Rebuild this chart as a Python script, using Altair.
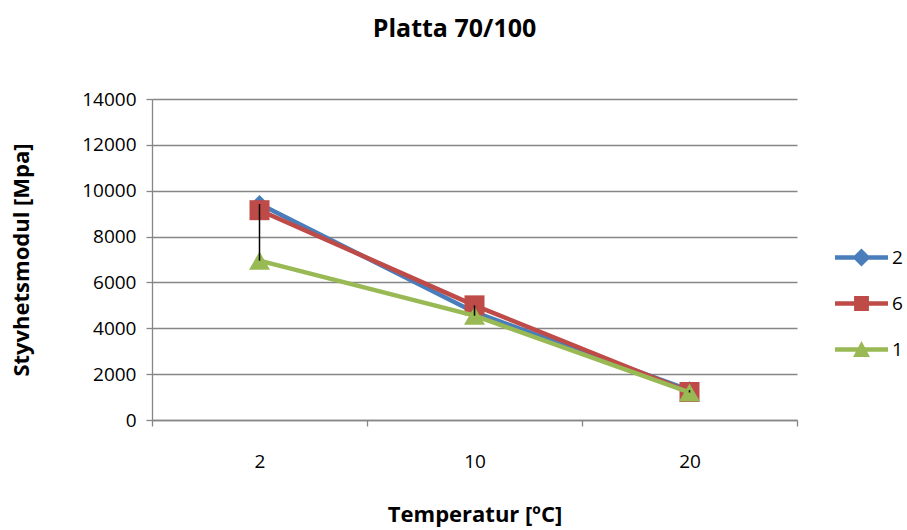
import altair as alt
import pandas as pd

# Stiffness modulus per temperature for three test series
temperatures = ["2", "10", "20"]
series_names = ["2", "6", "1"]
modulus_2 = [9420, 4700, 1300]
modulus_6 = [9150, 5000, 1220]
modulus_1 = [6950, 4550, 1200]

series_colors = ["#4A7EBB", "#BE4B48", "#98B954"]
series_shapes = ["diamond", "square", "triangle-up"]
marker_sizes = [320, 400, 440]

# Legend symbols: a short line with the series marker on it
legend_paths = [
    "M-1,-0.085H1V0.085H-1Z M0,-0.34L0.34,0L0,0.34L-0.34,0Z",
    "M-1,-0.085H1V0.085H-1Z M-0.28,-0.28H0.28V0.28H-0.28Z",
    "M-1,-0.085H1V0.085H-1Z M0,-0.32L0.32,0.28H-0.32Z",
]

rows = []
for name, vals in zip(series_names, [modulus_2, modulus_6, modulus_1]):
    for t, v in zip(temperatures, vals):
        rows.append({"temp": t, "series": name, "modulus": v})
df = pd.DataFrame(rows)
legend_df = pd.DataFrame({"series": series_names})

FONT = "Open Sans"
GRAY = "#868686"

x_enc = alt.X(
    "temp:N",
    sort=temperatures,
    bandPosition=0.5,
    scale=alt.Scale(type="band", padding=0),
    axis=alt.Axis(
        title="Temperatur [ºC]",
        labelAngle=0,
        tickBand="extent",
        grid=False,
        tickSize=6,
        labelPadding=26,
        titlePadding=33,
    ),
)
y_enc = alt.Y(
    "modulus:Q",
    scale=alt.Scale(domain=[0, 14000], nice=False),
    axis=alt.Axis(
        title="Styvhetsmodul [Mpa]",
        values=list(range(0, 14001, 2000)),
        format="d",
        tickSize=6,
        labelPadding=10,
        titlePadding=48,
    ),
)
color_scale = alt.Scale(domain=series_names, range=series_colors)
color_plain = alt.Color("series:N", scale=color_scale, legend=None)

legend_props = dict(
    title=None,
    orient="none",
    legendX=683,
    legendY=132,
    symbolSize=2809,
    symbolStrokeWidth=0,
    rowPadding=9,
    labelFontSize=19,
    labelOffset=4,
)

base = alt.Chart(df)
layers = []
for name, shape, msize in zip(series_names, series_shapes, marker_sizes):
    part = base.transform_filter(alt.datum.series == name)
    layers.append(
        part.mark_line(strokeWidth=4.5).encode(x=x_enc, y=y_enc, color=color_plain)
    )
    layers.append(
        part.mark_point(filled=True, opacity=1, size=msize, shape=shape).encode(
            x=x_enc, y=y_enc, color=color_plain
        )
    )

# High-low lines between the largest and smallest value at each temperature
hilo = base.transform_aggregate(
    lo="min(modulus)", hi="max(modulus)", groupby=["temp"]
).mark_rule(color="black", strokeWidth=1.5).encode(
    x=x_enc, y=alt.Y("lo:Q"), y2="hi:Q"
)
layers.append(hilo)

# Legend-only layer: its marks are fully transparent, it carries the series legend
legend_layer = (
    alt.Chart(legend_df)
    .mark_point(filled=True, opacity=0, size=0)
    .encode(
        color=alt.Color(
            "series:N",
            scale=color_scale,
            sort=series_names,
            legend=alt.Legend(**legend_props),
        ),
        shape=alt.Shape(
            "series:N",
            scale=alt.Scale(domain=series_names, range=legend_paths),
            sort=series_names,
            legend=alt.Legend(**legend_props),
        ),
    )
)
layers.append(legend_layer)

chart = (
    alt.layer(*layers)
    .resolve_scale(color="independent", shape="independent")
    .properties(
        width=645,
        height=321,
        autosize=alt.AutoSizeParams(type="none"),
        padding={"left": 152, "top": 99, "right": 110, "bottom": 110},
        title=alt.TitleParams(
            "Platta 70/100",
            fontSize=25,
            fontWeight="bold",
            font=FONT,
            color="black",
            dx=-20,
            offset=48,
        ),
    )
    .configure(background="white", font=FONT)
    .configure_view(stroke=None)
    .configure_axis(
        labelFont=FONT,
        labelFontSize=19,
        labelColor="black",
        titleFont=FONT,
        titleFontSize=22,
        titleFontWeight="bold",
        titleColor="black",
        domainColor=GRAY,
        tickColor=GRAY,
        gridColor=GRAY,
        domainWidth=1.3,
        tickWidth=1.3,
        gridWidth=1.3,
    )
    .configure_legend(labelFont=FONT, labelColor="black", symbolOpacity=1)
)

chart.save("out.html", embed_options={"renderer": "svg", "actions": False})
